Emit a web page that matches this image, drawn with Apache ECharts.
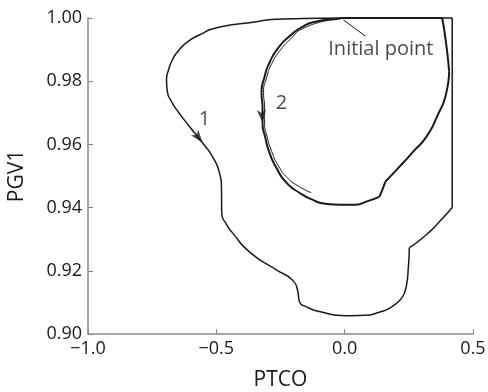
<!DOCTYPE html>
<html>
<head>
<meta charset="utf-8">
<script src="https://cdn.jsdelivr.net/npm/echarts@6/dist/echarts.min.js"></script>
<style>
  html, body { margin: 0; padding: 0; background: #fff; }
  #main { width: 488px; height: 392px; }
</style>
</head>
<body>
<div id="main"></div>
<script>
// trajectory 1 (outer loop), [PTCO, PGV1]
var curve1 = [
  [-0.009, 1.0000], [-0.098, 0.9999], [-0.242, 0.9997], [-0.371, 0.9985], [-0.499, 0.9969],
  [-0.565, 0.9947], [-0.616, 0.9922], [-0.651, 0.9893], [-0.671, 0.9868], [-0.686, 0.9836],
  [-0.694, 0.9805], [-0.690, 0.9764], [-0.674, 0.9735], [-0.655, 0.9710], [-0.604, 0.9656],
  [-0.554, 0.9605], [-0.515, 0.9561], [-0.488, 0.9510], [-0.480, 0.9466], [-0.479, 0.9384],
  [-0.460, 0.9346], [-0.437, 0.9320], [-0.371, 0.9260], [-0.266, 0.9203], [-0.204, 0.9171],
  [-0.184, 0.9140], [-0.176, 0.9102], [-0.149, 0.9086], [-0.098, 0.9071], [0.007, 0.9058],
  [0.077, 0.9059], [0.135, 0.9069], [0.182, 0.9085], [0.224, 0.9115], [0.240, 0.9150],
  [0.248, 0.9210], [0.252, 0.9273], [0.318, 0.9314], [0.369, 0.9355], [0.419, 0.9400],
  [0.419, 1.0000], [-0.009, 1.0000]
];
// trajectory 2 (inner loop)
var curve2 = [
  [-0.009, 1.0000], [-0.032, 0.9997], [-0.110, 0.9989], [-0.165, 0.9972], [-0.215, 0.9942],
  [-0.258, 0.9906], [-0.293, 0.9859], [-0.313, 0.9811], [-0.324, 0.9764], [-0.320, 0.9716],
  [-0.320, 0.9669], [-0.309, 0.9621], [-0.293, 0.9574], [-0.266, 0.9526], [-0.227, 0.9479],
  [-0.176, 0.9447], [-0.126, 0.9425], [-0.075, 0.9412], [-0.021, 0.9409], [0.038, 0.9409],
  [0.084, 0.9419], [0.135, 0.9434], [0.147, 0.9457], [0.158, 0.9482], [0.213, 0.9529],
  [0.267, 0.9577], [0.318, 0.9624], [0.361, 0.9690], [0.396, 0.9763], [0.407, 0.9830],
  [0.396, 0.9915], [0.380, 1.0000], [-0.009, 1.0000]
];
// second pass of trajectory 2, stops early
var curve2b = [
  [-0.060, 0.9993], [-0.165, 0.9966], [-0.210, 0.9934], [-0.249, 0.9900], [-0.284, 0.9856],
  [-0.304, 0.9811], [-0.316, 0.9764], [-0.312, 0.9716], [-0.312, 0.9669], [-0.301, 0.9621],
  [-0.284, 0.9577], [-0.258, 0.9532], [-0.223, 0.9494], [-0.176, 0.9466], [-0.130, 0.9447]
];
// where a curve has a sharp corner, split it there (indices into the arrays above)
var corners1 = [33, 36, 39, 40];
var corners2 = [21, 23, 29, 31];
// arrow heads: curve + index of the point where the arrow sits
var arrowAt = [
  { curve: curve1, idx: 15 },
  { curve: curve2, idx: 10 }
];
var notes = [
  { text: '1', value: [-0.546, 0.9678] },
  { text: '2', value: [-0.246, 0.9729] },
  { text: 'Initial point', value: [0.141, 0.9900] }
];
var leader = [[-0.005, 0.9994], [0.080, 0.9943]];
var xTicks = [-1.0, -0.5, 0.0, 0.5];
var yTicks = [0.90, 0.92, 0.94, 0.96, 0.98, 1.00];

var FONT = 'Open Sans';
var INK = '#1a1a1a';
var myChart = echarts.init(document.getElementById('main'));

function fmtX(v) {
  var s = Math.abs(v).toFixed(1);
  return v < 0 ? '\u2212' + s : s;
}

// cut a curve at its corners so each piece is smoothed on its own
function pieces(curve, cuts, width) {
  var out = [];
  var start = 0;
  cuts.concat([curve.length - 1]).forEach(function (c) {
    out.push({
      type: 'line', data: curve.slice(start, c + 1), smooth: 0.6, symbol: 'none', clip: false,
      lineStyle: { color: INK, width: width }
    });
    start = c;
  });
  return out;
}

var series = []
  .concat(pieces(curve1, corners1, 1.5))
  .concat(pieces(curve2, corners2, 2))
  .concat(pieces(curve2b, [], 1))
  .concat([
    { type: 'line', data: leader, symbol: 'none', clip: false,
      lineStyle: { color: INK, width: 1 } },
    { type: 'scatter', symbolSize: 0, clip: false,
      label: { show: true, position: 'inside', fontFamily: FONT, fontSize: 20, color: INK,
        formatter: function (p) { return p.data.text; } },
      data: notes }
  ]);

var option = {
  backgroundColor: '#fff',
  animation: false,
  grid: { left: 88, right: 15, top: 18, bottom: 58, outerBoundsMode: 'none' },
  xAxis: {
    type: 'value',
    min: xTicks[0], max: xTicks[xTicks.length - 1], interval: 0.5,
    name: 'PTCO', nameLocation: 'middle', nameGap: 36,
    nameTextStyle: { fontFamily: FONT, fontSize: 21, color: INK },
    axisLine: { onZero: false, lineStyle: { color: '#888', width: 1.5 } },
    axisTick: { inside: true, length: 5, lineStyle: { color: '#888' } },
    axisLabel: { fontFamily: FONT, fontSize: 18, color: INK, margin: 6, formatter: fmtX },
    splitLine: { show: false }
  },
  yAxis: {
    type: 'value',
    min: yTicks[0], max: yTicks[yTicks.length - 1], interval: 0.02,
    name: 'PGV1', nameLocation: 'middle', nameGap: 60,
    nameTextStyle: { fontFamily: FONT, fontSize: 21, color: INK },
    axisLine: { show: true, onZero: false, lineStyle: { color: '#888', width: 1.5 } },
    axisTick: { show: true, inside: true, length: 5, lineStyle: { color: '#888' } },
    axisLabel: { fontFamily: FONT, fontSize: 18, color: INK, margin: 6,
      formatter: function (v) { return v.toFixed(2); } },
    splitLine: { show: false }
  },
  series: series
};
myChart.setOption(option);

// rotate each arrow head along the direction of travel, measured in pixels
var arrowData = arrowAt.map(function (a) {
  var p0 = myChart.convertToPixel({ gridIndex: 0 }, a.curve[a.idx - 1]);
  var p1 = myChart.convertToPixel({ gridIndex: 0 }, a.curve[a.idx + 1]);
  var ang = Math.atan2(-(p1[0] - p0[0]), -(p1[1] - p0[1])) * 180 / Math.PI;
  return { value: a.curve[a.idx], symbolRotate: ang };
});
series.push({
  type: 'scatter', symbol: 'arrow', symbolSize: [7, 13], clip: false,
  itemStyle: { color: INK }, data: arrowData
});
myChart.setOption({ series: series });
</script>
</body>
</html>
